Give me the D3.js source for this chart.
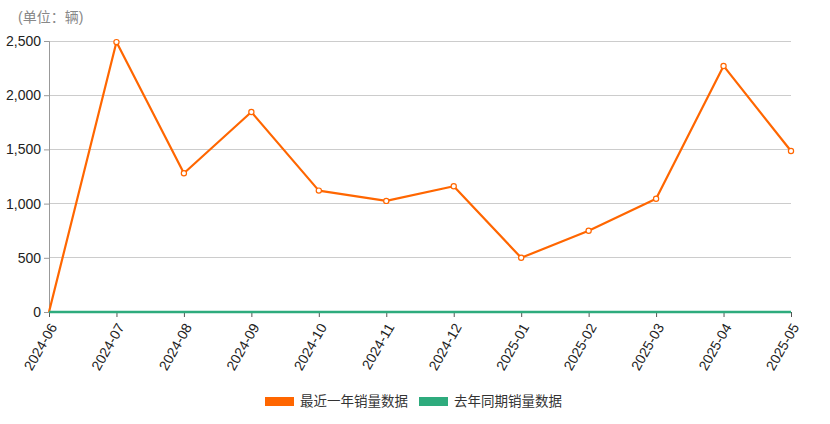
<!DOCTYPE html>
<html><head><meta charset="utf-8">
<script src="https://cdn.jsdelivr.net/npm/d3@7"></script>
<style>
body{margin:0;background:#fff;font-family:"Helvetica Neue",Arial,"Noto Sans CJK SC",sans-serif;}
</style></head>
<body><svg id="c" width="830" height="424"></svg>
<script>
const months = ["2024-06","2024-07","2024-08","2024-09","2024-10","2024-11","2024-12","2025-01","2025-02","2025-03","2025-04","2025-05"];
const recentSales = [0,2490,1280,1845,1120,1025,1160,500,750,1045,2270,1485];
const lastYearSales = [0,0,0,0,0,0,0,0,0,0,0,0];
const yTicks = [0,500,1000,1500,2000,2500];
const seriesNames = ["最近一年销量数据","去年同期销量数据"];
const seriesColors = ["#ff6600","#2eab7d"];
const unitLabel = "(单位：辆)";

const svg = d3.select("#c");
const m = {left:49, right:791, top:41, bottom:312};
const x = d3.scalePoint().domain(months).range([m.left, m.right]);
const y = d3.scaleLinear().domain([0,2500]).range([m.bottom, m.top]);
const font = "Arial, 'Noto Sans CJK SC', sans-serif";

// grid
svg.append("g").selectAll("line").data(yTicks.filter(d=>d>0)).join("line")
  .attr("x1", m.left).attr("x2", m.right)
  .attr("y1", d=>y(d)).attr("y2", d=>y(d))
  .attr("stroke","#cccccc").attr("stroke-width",1).attr("shape-rendering","crispEdges");

// y axis
const ya = svg.append("g").attr("transform",`translate(${m.left},0)`)
  .call(d3.axisLeft(y).tickValues(yTicks).tickFormat(d3.format(",")).tickSize(5).tickPadding(3));
ya.select(".domain").attr("stroke","#999");
ya.selectAll(".tick line").attr("stroke","#999");
ya.selectAll("text").attr("font-size",14).attr("fill","#222").attr("font-family",font);

// x axis
const xa = svg.append("g").attr("transform",`translate(0,${m.bottom})`)
  .call(d3.axisBottom(x).tickSize(5).tickPadding(4));
xa.select(".domain").attr("stroke","#555");
xa.selectAll(".tick line").attr("stroke","#555");
xa.selectAll("text").attr("font-size",14).attr("fill","#222").attr("font-family",font)
  .attr("text-anchor","end").attr("dy","0.35em")
  .attr("transform","translate(-4,8) rotate(-60)");

// unit
svg.append("text").attr("x",18).attr("y",22).text(unitLabel)
  .attr("font-size",14).attr("fill","#888").attr("font-family",font);

const line = d3.line().x((d,i)=>x(months[i])).y(d=>y(d));

// recent series
svg.append("path").datum(recentSales).attr("d",line)
  .attr("fill","none").attr("stroke",seriesColors[0]).attr("stroke-width",2.2).attr("stroke-linejoin","round");
svg.append("g").selectAll("circle").data(recentSales).join("circle")
  .attr("cx",(d,i)=>x(months[i])).attr("cy",d=>y(d)).attr("r",d=>d>0?2.6:0)
  .attr("fill","#fff").attr("stroke",seriesColors[0]).attr("stroke-width",1.2);

// last year series
svg.append("path").datum(lastYearSales).attr("d",line)
  .attr("fill","none").attr("stroke",seriesColors[1]).attr("stroke-width",2.5);

// legend
const lg = svg.append("g");
const lx = [265, 419];
seriesNames.forEach((n,i)=>{
  lg.append("rect").attr("x",lx[i]).attr("y",397).attr("width",29).attr("height",9).attr("fill",seriesColors[i]);
  lg.append("text").attr("x",lx[i]+35).attr("y",406).text(n)
    .attr("font-size",13.5).attr("fill","#333").attr("font-family",font);
});
</script></body></html>
